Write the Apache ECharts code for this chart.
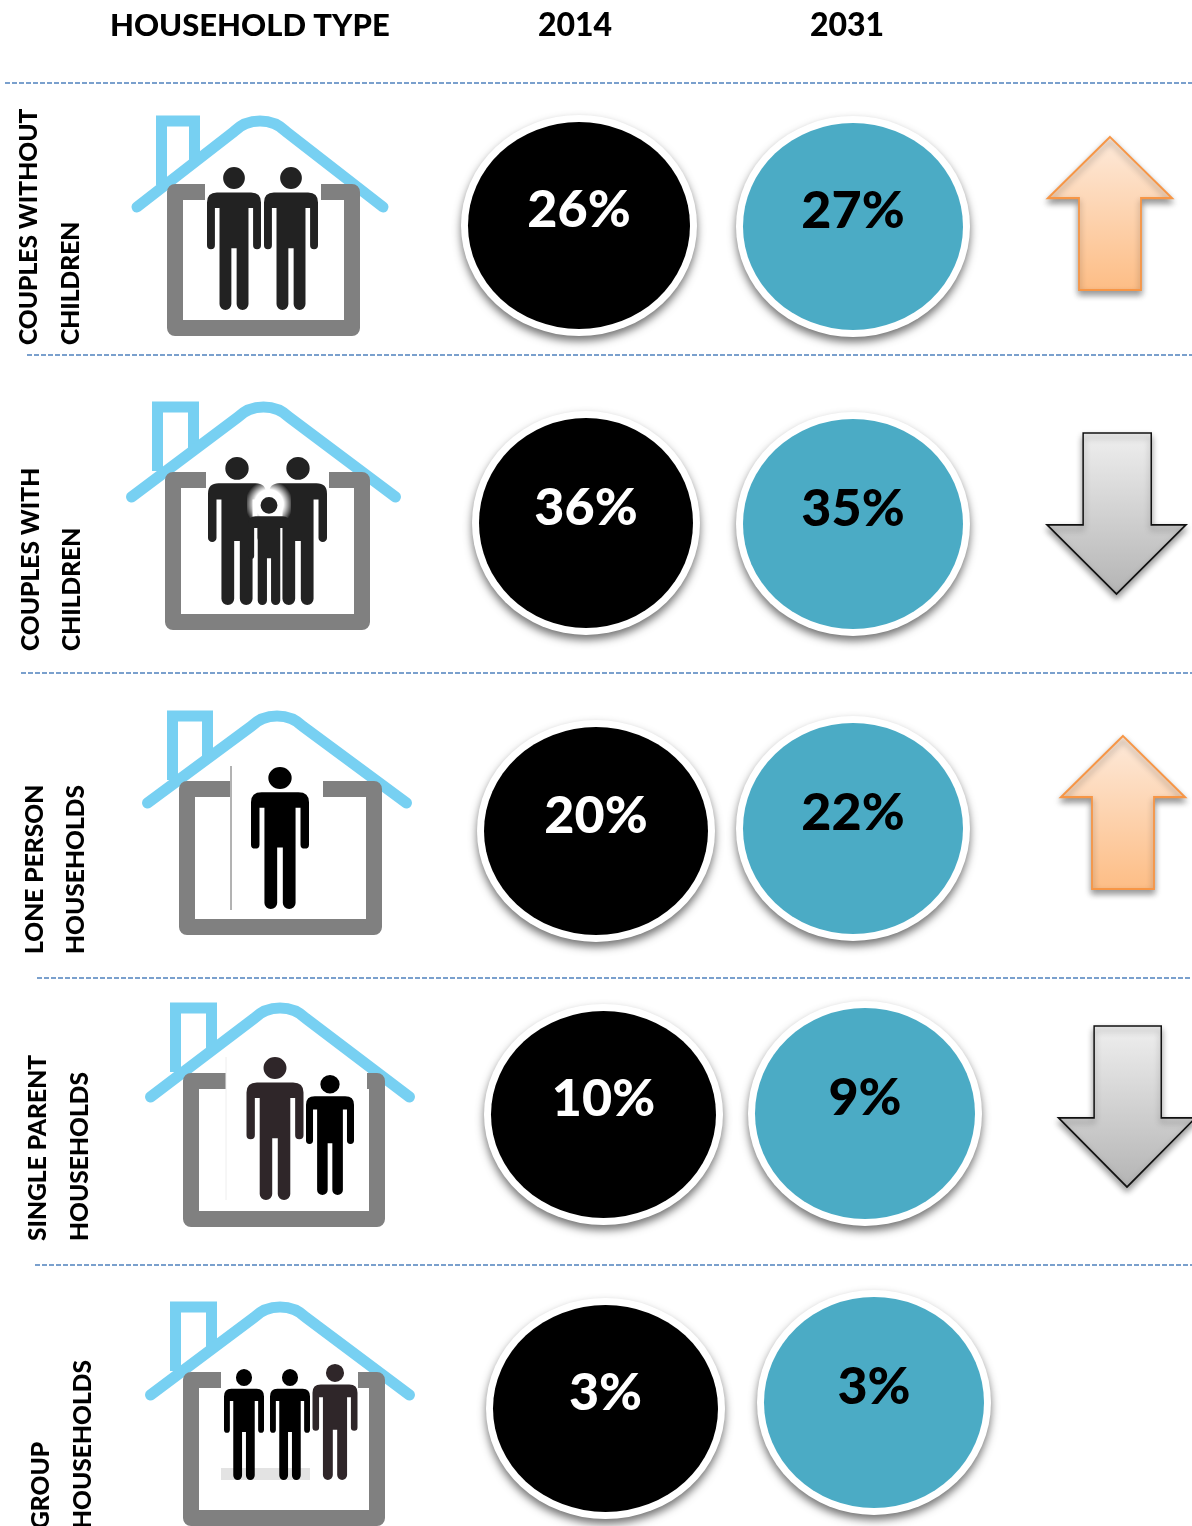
<!DOCTYPE html>
<html>
<head>
<meta charset="utf-8">
<title>Household type</title>
<script src="https://cdn.jsdelivr.net/npm/echarts@6/dist/echarts.min.js"></script>
<style>
html, body { margin: 0; padding: 0; background: #fff; }
#chart { width: 1192px; height: 1526px; }
</style>
</head>
<body>
<div id="chart"></div>
<script>
// data
var categories = ['COUPLES WITHOUT\nCHILDREN', 'COUPLES WITH\nCHILDREN', 'LONE PERSON\nHOUSEHOLDS', 'SINGLE PARENT\nHOUSEHOLDS', 'GROUP\nHOUSEHOLDS'];
var years = ['2014', '2031'];
var share2014 = [26, 36, 20, 10, 3];
var share2031 = [27, 35, 22, 9, 3];

// hand placement of the original slide: [dx, dy, width, height] against the axis cell
var FONT = 'Lato';
var RING = 7;
var place2014 = [[4, 0.5, 222, 207], [11, 2.5, 214, 210], [21, 15, 224, 208], [28.5, 3, 225, 207], [30.5, 1.5, 225, 207]];
var place2031 = [[6, 1.5, 220, 207], [6, 3.5, 220, 210], [6, 12.5, 220, 211], [18, 2, 220, 211], [27, -4.5, 220, 211]];
var placeArrow = [[-9, -11.5, 124, 153], [-2.5, -7, 139, 161], [4, -3.5, 124, 153], [8, -5, 137, 161], null];
var separators = [[5, 83], [27, 355], [21, 673], [37, 978], [35, 1265]];
var sideLabels = [[29, 71, 345], [31, 72, 651], [35, 76, 954], [38, 80, 1241], [41, 83, 1529]];

// house outlines: wall l/r/t/b, roof l/r/end y/top, chimney l/r, wall gap l/r
var houses = [
	{ wall: [167, 360, 184, 336], roof: [137, 383, 207, 115], chim: [156, 200], gap: [205, 321] },
	{ wall: [165, 370, 472, 630], roof: [131.5, 395.5, 497, 401], chim: [152, 199], gap: [206, 329] },
	{ wall: [179, 382, 781, 935], roof: [147.5, 406.5, 803, 710], chim: [167, 213], gap: [230, 323] },
	{ wall: [183, 385, 1073, 1227], roof: [150.5, 409.5, 1097, 1002], chim: [170, 217], gap: [226, 367] },
	{ wall: [183, 385, 1372, 1526], roof: [150.5, 409.5, 1395, 1301], chim: [170, 217], gap: [221, 358] }
];
// people in each house: [centre x, top, width, height, colour]
var people = [
	[[234, 167, 54, 143, '#222'], [291, 167, 54, 143, '#222']],
	[[237, 457, 58, 148, '#222'], [298, 457, 58, 148, '#222'], [269, 497, 42, 108, '#222']],
	[[280, 767, 58, 142, '#000']],
	[[275, 1057, 57, 143, '#2f2629'], [330, 1075, 48, 120, '#000']],
	[[244, 1369, 40, 111, '#000'], [290, 1369, 40, 111, '#000'], [335, 1364, 45, 116, '#2f2629']]
];

var ELLIPSE = 'path://M0,50 A50,50 0 1 1 100,50 A50,50 0 1 1 0,50 Z';
var ARROW_UP = 'path://M50,0 L100,40 L75,40 L75,100 L25,100 L25,40 L0,40 Z';
var ARROW_DOWN = 'path://M26,0 L75,0 L75,57 L100,57 L50,100 L0,57 L26,57 Z';
var PERSON = 'M82,0 A33,33 0 1 1 82,66 A33,33 0 1 1 82,0 Z ' +
	'M30,76 L134,76 Q164,76 164,106 L164,234 A12,12 0 0 1 140,234 L140,123 L126,123 L126,410 A18,18 0 0 1 90,410 ' +
	'L90,243 L74,243 L74,410 A18,18 0 0 1 38,410 L38,123 L24,123 L24,234 A12,12 0 0 1 0,234 L0,106 Q0,76 30,76 Z';

// white plate with the drop shadow, sits under the coloured disc
function plateSeries(name, place) {
	return {
		name: name + ' plate',
		type: 'scatter',
		z: 3,
		silent: true,
		data: categories.map(function (cat, i) {
			return {
				value: [name, cat],
				symbol: ELLIPSE,
				symbolSize: [place[i][2] + RING * 2, place[i][3] + RING * 2],
				symbolOffset: [place[i][0], place[i][1]]
			};
		}),
		itemStyle: {
			opacity: 1,
			color: '#fff',
			shadowColor: 'rgba(0,0,0,0.55)',
			shadowBlur: 9,
			shadowOffsetY: 5
		}
	};
}

function circleSeries(name, shares, place, fill, textColor) {
	return {
		name: name,
		type: 'scatter',
		z: 4,
		silent: true,
		data: categories.map(function (cat, i) {
			return {
				value: [name, cat, shares[i]],
				symbol: ELLIPSE,
				symbolSize: [place[i][2], place[i][3]],
				symbolOffset: [place[i][0], place[i][1]]
			};
		}),
		itemStyle: { opacity: 1, color: fill },
		label: {
			show: true,
			position: 'inside',
			offset: [0, -15],
			fontFamily: FONT,
			fontWeight: 900,
			fontSize: 52,
			color: textColor,
			formatter: function (p) { return p.value[2] + '%'; }
		}
	};
}

// up or down arrow comes from the change between the two years, none when flat
function arrowData() {
	var t = [];
	for (var i = 0; i < categories.length; i++) {
		if (share2031[i] === share2014[i]) continue;
		var up = share2031[i] > share2014[i];
		t.push({
			value: ['', categories[i]],
			symbol: up ? ARROW_UP : ARROW_DOWN,
			symbolSize: [placeArrow[i][2], placeArrow[i][3]],
			symbolOffset: [placeArrow[i][0], placeArrow[i][1]],
			itemStyle: up ? {
				color: new echarts.graphic.LinearGradient(0, 0, 0, 1, [{ offset: 0, color: '#fdeadb' }, { offset: 1, color: '#fdbd85' }]),
				borderColor: '#f79646',
				borderWidth: 2
			} : {
				color: new echarts.graphic.LinearGradient(0, 0, 0, 1, [{ offset: 0, color: '#efefef' }, { offset: 1, color: '#b4b4b4' }]),
				borderColor: '#111',
				borderWidth: 1.6
			}
		});
	}
	return t;
}

function personEl(p) {
	return {
		type: 'path',
		shape: { pathData: PERSON, x: p[0] - p[2] / 2, y: p[1], width: p[2], height: p[3], layout: 'cover' },
		style: { fill: p[4] }
	};
}

function renderHouse(params) {
	var i = params.dataIndex;
	var h = houses[i];
	var mid = (h.roof[0] + h.roof[1]) / 2;
	var top = h.roof[3] + 5.5;
	var wallL = h.wall[0] + 8, wallR = h.wall[1] - 8, wallT = h.wall[2] + 8, wallB = h.wall[3] - 8;
	var roofPath = 'M' + h.roof[0] + ',' + h.roof[2] + ' L' + (mid - 26) + ',' + (top + 11) +
		' C' + (mid - 12) + ',' + (top - 3) + ' ' + (mid + 12) + ',' + (top - 3) + ' ' + (mid + 26) + ',' + (top + 11) +
		' L' + h.roof[1] + ',' + h.roof[2];
	var chimTop = h.roof[3] + 6;
	var children = [
		{
			type: 'polyline',
			shape: { points: [[h.chim[0] + 5.5, h.roof[3] + 70], [h.chim[0] + 5.5, chimTop], [h.chim[1] - 5.5, chimTop], [h.chim[1] - 5.5, h.roof[3] + 48]] },
			style: { fill: 'none', stroke: '#77d0f2', lineWidth: 11, lineJoin: 'miter' }
		},
		{
			type: 'path',
			shape: { pathData: roofPath, x: h.roof[0], y: top + 0.5, width: h.roof[1] - h.roof[0], height: h.roof[2] - top - 0.5, layout: 'cover' },
			style: { fill: 'none', stroke: '#77d0f2', lineWidth: 11, lineCap: 'round' }
		},
		{
			type: 'polyline',
			shape: { points: [[h.gap[0], wallT], [wallL, wallT], [wallL, wallB], [wallR, wallB], [wallR, wallT], [h.gap[1], wallT]] },
			style: { fill: 'none', stroke: '#808080', lineWidth: 16, lineJoin: 'round' }
		}
	];
	if (i === 2) {
		children.push({ type: 'line', shape: { x1: 231, y1: 766, x2: 231, y2: 910 }, style: { stroke: '#666', lineWidth: 1 } });
	}
	if (i === 3) {
		children.push({ type: 'line', shape: { x1: 226, y1: 1057, x2: 226, y2: 1200 }, style: { stroke: '#eee', lineWidth: 1 } });
	}
	if (i === 4) {
		children.push({ type: 'rect', shape: { x: 221, y: 1468, width: 89, height: 12 }, style: { fill: '#e3e3e3' } });
	}
	people[i].forEach(function (p, k) {
		if (i === 1 && k === 2) {
			// the pasted child picture leaves a white smear round its head
			children.push({
				type: 'rect',
				shape: { x: 247, y: 484, width: 44, height: 40 },
				style: {
					fill: new echarts.graphic.RadialGradient(0.5, 0.5, 0.6, [
						{ offset: 0, color: 'rgba(255,255,255,1)' },
						{ offset: 0.6, color: 'rgba(255,255,255,1)' },
						{ offset: 1, color: 'rgba(255,255,255,0)' }
					])
				}
			});
		}
		children.push(personEl(p));
	});
	return { type: 'group', children: children };
}

var graphics = [];
separators.forEach(function (s) {
	graphics.push({
		type: 'line',
		silent: true,
		shape: { x1: s[0], y1: s[1], x2: 1192, y2: s[1] },
		style: { stroke: '#4f81bd', lineWidth: 1.5, lineDash: [5, 2] }
	});
});
categories.forEach(function (cat, i) {
	cat.split('\n').forEach(function (line, k) {
		graphics.push({
			type: 'text',
			silent: true,
			x: sideLabels[i][k],
			y: sideLabels[i][2],
			rotation: Math.PI / 2,
			style: {
				text: line,
				fill: '#000',
				font: '900 24.6px ' + FONT,
				textAlign: 'left',
				textVerticalAlign: 'middle'
			}
		});
	});
});

var myChart = echarts.init(document.getElementById('chart'), null, { renderer: 'canvas' });
var option = {
	backgroundColor: '#fff',
	animation: false,
	title: {
		text: 'HOUSEHOLD TYPE',
		left: 110,
		top: 10,
		padding: 0,
		textStyle: { fontFamily: FONT, fontWeight: 900, fontSize: 31, color: '#000' }
	},
	grid: { left: 439, top: 77.25, width: 816, height: 1477.5, outerBoundsMode: 'none' },
	xAxis: {
		type: 'category',
		position: 'top',
		data: years.concat(['']),
		axisLine: { show: false },
		axisTick: { show: false },
		axisLabel: {
			margin: 36,
			fontFamily: FONT,
			fontWeight: 900,
			fontSize: 32,
			color: '#000'
		}
	},
	yAxis: {
		type: 'category',
		inverse: true,
		data: categories,
		show: false
	},
	graphic: graphics,
	series: [
		{
			type: 'custom',
			name: 'houses',
			coordinateSystem: 'none',
			silent: true,
			z: 2,
			data: categories.map(function (cat, i) { return i; }),
			renderItem: renderHouse
		},
		plateSeries(years[0], place2014),
		plateSeries(years[1], place2031),
		circleSeries(years[0], share2014, place2014, '#000', '#fff'),
		circleSeries(years[1], share2031, place2031, '#4babc5', '#000'),
		{
			type: 'scatter',
			name: 'change',
			z: 3,
			silent: true,
			data: arrowData(),
			itemStyle: { opacity: 1, shadowColor: 'rgba(0,0,0,0.4)', shadowBlur: 6, shadowOffsetY: 4 }
		}
	]
};
myChart.setOption(option);
</script>
</body>
</html>
